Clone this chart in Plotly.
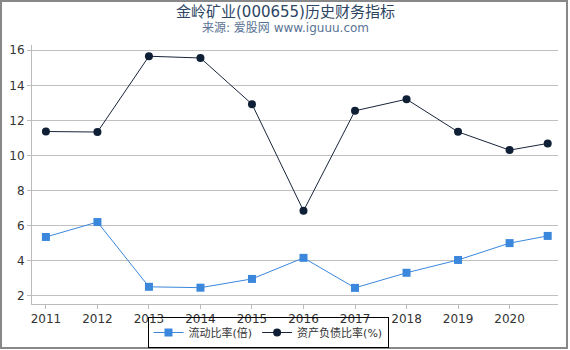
import plotly.graph_objects as go

years = [2011, 2012, 2013, 2014, 2015, 2016, 2017, 2018, 2019, 2020, 2020.74]
tick_vals = [2011, 2012, 2013, 2014, 2015, 2016, 2017, 2018, 2019, 2020]
tick_text = ["2011", "2012", "2013", "2014", "2015", "2016", "2017", "2018", "2019", "2020"]
current_ratio = [5.36, 6.21, 2.52, 2.47, 2.97, 4.17, 2.46, 3.32, 4.05, 5.01, 5.42]
debt_ratio = [11.37, 11.34, 15.66, 15.56, 12.93, 6.85, 12.55, 13.21, 11.35, 10.31, 10.69]
name_a = "流动比率(倍)"
name_b = "资产负债比率(%)"

W, H = 570, 350
ml, mr, mt, mb = 32, 12, 45, 46
pw, ph = W - ml - mr, H - mt - mb

def px(x):
    return (x - ml) / pw

def py(y):
    return (H - mb - y) / ph

font_family = "DejaVu Sans, Noto Sans CJK SC, sans-serif"

fig = go.Figure()
fig.add_trace(go.Scatter(
    x=years, y=current_ratio, name=name_a, mode="lines+markers",
    line=dict(color="#3a87dc", width=1),
    marker=dict(symbol="square", size=8, color="#3a87dc"),
))
fig.add_trace(go.Scatter(
    x=years, y=debt_ratio, name=name_b, mode="lines+markers",
    line=dict(color="#18253a", width=1),
    marker=dict(symbol="circle", size=8, color="#0f1f35"),
))

fig.update_layout(
    width=W, height=H,
    margin=dict(l=ml, r=mr, t=mt, b=mb, autoexpand=False),
    paper_bgcolor="white", plot_bgcolor="white",
    font=dict(family=font_family, size=12, color="#333"),
    showlegend=True,
    legend=dict(orientation="h", x=px(268), xanchor="center",
                y=py(348), yanchor="bottom", bgcolor="rgba(0,0,0,0)",
                bordercolor="#000", borderwidth=1,
                font=dict(family="DejaVu Sans, Noto Sans CJK SC, sans-serif", size=11, color="#333"),
                itemwidth=30, tracegroupgap=0),
    xaxis=dict(range=[2010.73, 2020.94], tickvals=tick_vals, ticktext=tick_text,
               showgrid=False, showline=True, linecolor="#bbb", linewidth=1,
               ticks="outside", ticklen=4, tickcolor="#bbb", zeroline=False,
               tickfont=dict(size=12, color="#333")),
    yaxis=dict(range=[1.54, 16.3], tickvals=[2, 4, 6, 8, 10, 12, 14, 16],
               showgrid=True, gridcolor="#c0c0c0", gridwidth=1,
               showline=True, linecolor="#bbb", linewidth=1,
               ticks="outside", ticklen=4, tickcolor="#bbb", zeroline=False,
               tickfont=dict(size=12, color="#333")),
    annotations=[
        dict(text="金岭矿业(000655)历史财务指标", x=px(285), y=py(12), xref="paper", yref="paper",
             xanchor="center", yanchor="middle",
             showarrow=False, font=dict(size=15, color="#2c4563")),
        dict(text="来源: 爱股网 www.iguuu.com", x=px(285), y=py(28), xref="paper", yref="paper",
             xanchor="center", yanchor="middle",
             showarrow=False, font=dict(size=12, color="#5a7394")),
    ],
    shapes=[
        dict(type="rect", xref="paper", yref="paper", x0=px(1), x1=px(567), y0=py(348), y1=py(1),
             line=dict(color="#888", width=2)),
    ],
)

fig.write_html("out.html")
